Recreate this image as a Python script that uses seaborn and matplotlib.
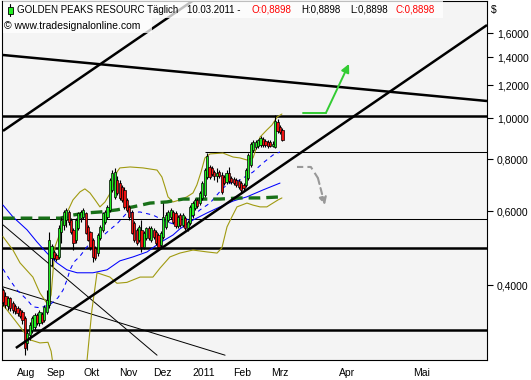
import numpy as np
import pandas as pd
import matplotlib
matplotlib.use("Agg")
import matplotlib.pyplot as plt
import matplotlib.patches as mpatches
import matplotlib.transforms as mtrans
from matplotlib.ticker import NullLocator
import seaborn as sns

# ---------------- data (daily candles, trading-day index) ----------------
opens = [
    .389, .377, .357, .373, .363, .357, .353, .349, .345, .334,
    .291, .304, .312, .318, .339, .325, .341, .330, .345, .359,
    .464, .480, .472, .467, .536, .557, .572, .598, .572, .542,
    .513, .548, .578, .582, .595, .551, .536, .513, .491, .477,
    .519, .542, .566, .582, .605, .675, .650, .713, .701, .686,
    .675, .639, .615, .598, .563, .542, .513, .542, .494, .519,
    .548, .513, .542, .536, .527, .499, .522, .551, .572, .582,
    .598, .595, .554, .588, .557, .578, .548, .563, .588, .611,
    .639, .628, .646, .657, .725, .766, .762, .745, .729, .745,
    .733, .725, .705, .741, .721, .717, .713, .709, .701, .694,
    .694, .721, .774, .841, .855, .859, .864, .893, .883, .878,
    .878, .859, .855, .981, .954, .939]
closes = [
    .365, .359, .373, .353, .349, .347, .343, .338, .330, .283,
    .307, .321, .334, .339, .325, .345, .327, .355, .369, .513,
    .496, .464, .462, .548, .572, .598, .605, .566, .536, .505,
    .572, .595, .598, .605, .533, .513, .494, .467, .464, .527,
    .551, .595, .598, .615, .713, .741, .745, .664, .646, .639,
    .615, .605, .582, .533, .513, .505, .551, .494, .533, .548,
    .519, .548, .522, .505, .494, .533, .582, .588, .598, .605,
    .566, .554, .582, .557, .588, .548, .566, .615, .628, .639,
    .618, .664, .701, .753, .814, .725, .737, .729, .741, .729,
    .668, .701, .741, .709, .705, .701, .694, .686, .675, .682,
    .753, .818, .869, .878, .878, .888, .898, .864, .864, .859,
    .859, .869, .987, .934, .928, .8898]
highs = [
    .393, .385, .377, .375, .367, .361, .357, .353, .349, .338,
    .312, .327, .338, .343, .343, .349, .345, .359, .389, .536,
    .502, .485, .477, .557, .582, .605, .611, .605, .578, .548,
    .578, .598, .605, .611, .598, .557, .539, .519, .496, .533,
    .557, .598, .605, .621, .721, .753, .762, .729, .713, .694,
    .686, .646, .621, .605, .569, .548, .557, .572, .539, .551,
    .554, .554, .548, .542, .533, .539, .628, .598, .605, .611,
    .605, .601, .588, .595, .595, .585, .572, .621, .635, .646,
    .646, .671, .709, .762, .827, .774, .770, .753, .762, .753,
    .745, .733, .753, .766, .729, .725, .721, .717, .709, .701,
    .762, .827, .878, .888, .888, .893, .908, .903, .893, .888,
    .888, .883, 1.019, .997, .965, .949]
lows = [
    .357, .353, .349, .347, .343, .341, .338, .334, .323, .272,
    .280, .296, .307, .312, .321, .320, .323, .327, .341, .353,
    .444, .459, .457, .462, .505, .542, .551, .557, .530, .485,
    .505, .542, .566, .575, .530, .510, .485, .454, .459, .469,
    .513, .536, .560, .575, .598, .668, .642, .657, .639, .632,
    .608, .598, .572, .530, .507, .499, .507, .480, .488, .513,
    .513, .507, .516, .499, .485, .494, .516, .545, .566, .575,
    .560, .548, .548, .551, .551, .542, .539, .557, .578, .605,
    .611, .621, .639, .650, .717, .717, .729, .713, .705, .721,
    .660, .694, .698, .701, .698, .694, .686, .679, .668, .675,
    .686, .713, .766, .832, .845, .850, .855, .855, .855, .850,
    .855, .855, .850, .923, .918, .883]

# indicator knots (trading-day index, price)
bb_up_x = [0, 4.1, 7.0, 12.3, 15.2, 18.5, 19.8, 21.4, 23.5, 26.3, 28.8, 31.7, 33.7, 35.8,
           37.9, 39.9, 42.0, 44.9, 46.9, 48.1, 52.3, 57.6, 63.4, 65.4, 66.7, 67.9, 70.0,
           72.8, 75.7, 78.2, 79.8, 81.5, 83.1, 85.2, 90.5, 94.7, 97.5, 100.4, 102.9, 105.8,
           108.6, 110.7, 112.8, 114.8]
bb_up_y = [.522, .485, .452, .418, .383, .359, .379, .494, .533, .595, .639, .668, .679, .664,
           .639, .615, .632, .675, .745, .762, .766, .762, .753, .725, .686, .650, .632,
           .639, .650, .664, .694, .745, .805, .823, .827, .809, .805, .796, .805, .903,
           .939, .965, 1.008, 1.025]
bb_lo_x = [0, 7.0, 11.1, 15.2, 18.5, 19.8, 20.6, 25.0, 30.0, 34.0, 34.6, 36.6, 38.7, 44.0,
           46.9, 51.0, 56.4, 61.7, 64.6, 68.7, 72.8, 78.2, 84.0, 88.1, 90.1, 92.2, 94.2,
           96.3, 100.4, 102.9, 105.8, 108.6, 111.1, 113.2, 114.8]
bb_lo_y = [.359, .318, .296, .291, .292, .278, .258, .215, .200, .240, .265, .349, .428, .418,
           .404, .406, .418, .418, .439, .467, .477, .485, .480, .477, .491, .551, .582,
           .615, .628, .621, .615, .615, .628, .639, .646]
ma_slow_x = [0, 4.1, 9.9, 14.0, 18.1, 22.2, 26.3, 30.5, 37.0, 42.8, 48.1, 53.5, 59.3, 64.6,
             70.0, 72.8, 78.2, 84.0, 89.3, 94.7, 100.4, 107.0, 114.0]
ma_slow_y = [.621, .582, .542, .507, .477, .452, .435, .428, .428, .435, .457, .467, .480, .505,
             .527, .545, .572, .595, .615, .635, .650, .675, .701]
ma_fast_x = [0, 2.9, 5.8, 9.9, 12.3, 15.2, 19.3, 22.6, 24.7, 26.3, 27.6, 29.2, 31.7, 34.6,
             37.9, 42.0, 44.9, 46.9, 51.0, 56.4, 61.7, 67.5, 71.6, 77.0, 81.1, 85.2, 90.5,
             93.4, 97.5, 102.9, 107.0, 111.1, 114.0]
ma_fast_y = [.437, .411, .389, .369, .355, .353, .359, .373, .389, .411, .435, .454, .469, .494,
             .516, .530, .548, .560, .595, .598, .588, .566, .557, .578, .605, .628, .682,
             .701, .713, .745, .783, .818, .832]
ma_long_x = [0, 11.1, 23.5, 28.8, 34.6, 39.9, 46.9, 53.5, 60.5, 67.5, 74.1, 81.1, 89.3, 97.5,
             105.8, 114.8]
ma_long_y = [.578, .578, .578, .588, .595, .598, .605, .615, .628, .632, .642, .642, .642, .646,
             .646, .650]

# drawn trend lines: ((x0, p0), (x1, p1))
thick_lines = [((5.3, .283), (199.2, 1.672)),
               ((0.0, .934), (78.6, 1.92)),
               ((0.0, 1.418), (199.2, 1.101))]
thin_lines = [((0.0, .557), (63.4, .272)),
              ((0.0, .396), (91.4, .272))]
thick_levels = [1.014, .491, .312]
thin_levels = [(0.0, .575), (83.1, .832)]
green_arrow_x = [123.5, 132.9, 142.4]
green_arrow_y = [1.031, 1.031, 1.350]
gray_arrow_x = [121.0, 126.7, 129.6, 132.5]
gray_arrow_y = [.766, .766, .721, .621]

month_pos = [4.5, 16.9, 32.1, 46.5, 60.5, 76.9, 93.4, 109.1, 137.0, 167.5]
month_lbl = ["Aug", "Sep", "Okt", "Nov", "Dez", "2011", "Feb", "Mrz", "Apr", "Mai"]
price_ticks = [0.4, 0.6, 0.8, 1.0, 1.2, 1.4, 1.6]
price_lbl = ["0,4000", "0,6000", "0,8000", "1,0000", "1,2000", "1,4000", "1,6000"]

# ---------------- style ----------------
sns.set_style("white")
plt.rcParams['font.family'] = ['Liberation Sans', 'DejaVu Sans']

W, H = 531, 380
fig = plt.figure(figsize=(W / 100, H / 100), dpi=100)
fig.patch.set_facecolor('white')
ax = fig.add_axes([2 / W, 20 / H, 485 / W, 359 / H])
ax.set_facecolor('#f4f4f4')
ax.set_yscale('log')
ax.set_ylim(0.2649, 1.9085)
ax.set_xlim(-0.41, 199.2)

# horizontal levels
for lv in thick_levels:
    ax.axhline(lv, color='black', lw=1.8, zorder=2)
for x0, lv in thin_levels:
    ax.hlines(lv, x0, 199.2, color='black', lw=0.75, zorder=2)
for (x0, p0), (x1, p1) in thin_lines:
    ax.plot([x0, x1], [p0, p1], color='black', lw=0.7, zorder=2)

# indicators via seaborn
olive = '#a09a10'
sns.lineplot(x=bb_up_x, y=bb_up_y, ax=ax, color=olive, lw=0.8, sort=False, estimator=None, zorder=3)
sns.lineplot(x=bb_lo_x, y=bb_lo_y, ax=ax, color=olive, lw=0.8, sort=False, estimator=None, zorder=3)
sns.lineplot(x=ma_slow_x, y=ma_slow_y, ax=ax, color='#0000ff', lw=0.75, sort=False, estimator=None, zorder=3)
sns.lineplot(x=ma_fast_x, y=ma_fast_y, ax=ax, color='#0000ff', lw=0.75, sort=False, estimator=None, zorder=3)
ax.lines[-1].set_dashes([4, 4])
sns.lineplot(x=ma_long_x, y=ma_long_y, ax=ax, color='#187018', lw=2.4, sort=False, estimator=None, zorder=3)
ax.lines[-1].set_dashes([3.5, 1.8])

# candles
x = np.arange(len(opens))
o = np.array(opens); c = np.array(closes)
up = c >= o
ax.vlines(x, lows, highs, color='black', lw=0.8, zorder=4)
ax.bar(x, np.abs(c - o), bottom=np.minimum(o, c), width=0.9,
       color=np.where(up, '#22ee22', '#ee1111'), edgecolor='black', linewidth=0.5, zorder=5)

# thick trend lines
for (x0, p0), (x1, p1) in thick_lines:
    ax.plot([x0, x1], [p0, p1], color='black', lw=1.8, zorder=6, solid_capstyle='butt')

# arrows
ax.plot(green_arrow_x[:-1], green_arrow_y[:-1], color='#33cc33', lw=1.4, zorder=7)
ax.annotate('', xy=(green_arrow_x[-1], green_arrow_y[-1]), xytext=(green_arrow_x[-2], green_arrow_y[-2]),
            arrowprops=dict(arrowstyle='-|>', color='#33cc33', lw=1.4, mutation_scale=12,
                            shrinkA=0, shrinkB=0), zorder=7)
ax.plot(gray_arrow_x[:-1], gray_arrow_y[:-1], color='#999999', lw=1.5, ls=(0, (3, 2)), zorder=7)
ax.annotate('', xy=(gray_arrow_x[-1], gray_arrow_y[-1]), xytext=(gray_arrow_x[-2], gray_arrow_y[-2]),
            arrowprops=dict(arrowstyle='-|>', color='#999999', lw=1.5, ls=(0, (3, 2)), mutation_scale=11,
                            shrinkA=0, shrinkB=0), zorder=7)

# axes styling
for s in ax.spines.values():
    s.set_color('black'); s.set_linewidth(0.8); s.set_visible(True)
ax.yaxis.tick_right()
ax.set_yticks(price_ticks)
ax.set_yticklabels(price_lbl)
ax.yaxis.set_minor_locator(NullLocator())
ax.set_xticks(month_pos)
ax.set_xticklabels(month_lbl, ha='left')
ax.tick_params(axis='both', which='major', direction='out', length=4, width=0.8,
               labelsize=7.5, colors='black', pad=2)
ax.tick_params(axis='y', pad=3)
off = mtrans.ScaledTranslation(3 / 100, 0, fig.dpi_scale_trans)
for lab in ax.get_xticklabels():
    lab.set_transform(lab.get_transform() + off)
ax.set_xlabel(''); ax.set_ylabel('')
ax.grid(False)

# title box
def fx(px):
    return px / W
def fy(py):
    return 1 - py / H
fig.patches.append(mpatches.Rectangle((fx(3), fy(18)), (443 - 3) / W, 17 / H, transform=fig.transFigure,
                                      facecolor='white', edgecolor='none', alpha=0.75, zorder=8))
fig.patches.append(mpatches.Rectangle((fx(3), fy(33)), (152 - 3) / W, 15 / H, transform=fig.transFigure,
                                      facecolor='white', edgecolor='none', alpha=0.75, zorder=8))
fig.lines.append(plt.Line2D([fx(10), fx(10)], [fy(4), fy(16)], transform=fig.transFigure,
                            color='black', lw=0.8, zorder=9))
fig.patches.append(mpatches.Rectangle((fx(8), fy(13.5)), 4.5 / W, 7 / H, transform=fig.transFigure,
                                      facecolor='#22ee22', edgecolor='black', lw=0.6, zorder=10))
fs = 7.0
tz = 11
fig.text(fx(17), fy(10), "GOLDEN PEAKS RESOURC Täglich", fontsize=fs, va='center', ha='left', color='black', zorder=tz)
fig.text(fx(187), fy(10), "10.03.2011 -", fontsize=fs, va='center', ha='left', color='black', zorder=tz)
fig.text(fx(252), fy(10), "O:0,8898", fontsize=fs, va='center', ha='left', color='#ff0000', zorder=tz)
fig.text(fx(301), fy(10), "H:0,8898", fontsize=fs, va='center', ha='left', color='black', zorder=tz)
fig.text(fx(350), fy(10), "L:0,8898", fontsize=fs, va='center', ha='left', color='black', zorder=tz)
fig.text(fx(396), fy(10), "C:0,8898", fontsize=fs, va='center', ha='left', color='#ff0000', zorder=tz)
fig.text(fx(4), fy(26), "© www.tradesignalonline.com", fontsize=7.5, va='center', ha='left', color='black', zorder=tz)
fig.text(fx(491), fy(10), "$", fontsize=7.5, va='center', ha='left', color='black', zorder=tz)

fig.savefig('out.png', dpi=100, facecolor='white')
